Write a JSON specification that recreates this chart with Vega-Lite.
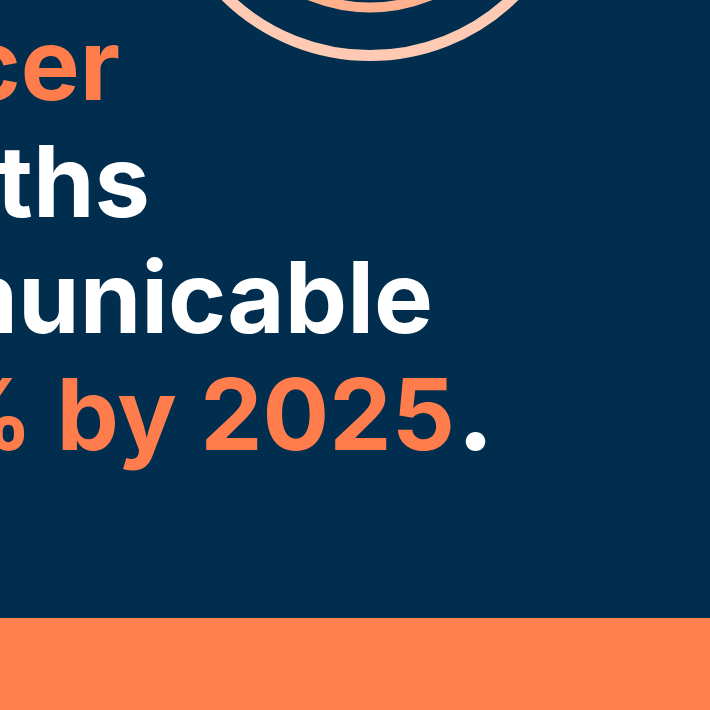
{
  "$schema": "https://vega.github.io/schema/vega-lite/v6.json",
  "width": 710,
  "height": 710,
  "autosize": {"type": "none"},
  "padding": 0,
  "background": "#012e4e",
  "config": {"view": {"stroke": null}},
  "layer": [
    {
      "data": {"values": [{"x": 0, "x2": 710, "y": 618, "y2": 710}]},
      "mark": {"type": "rect", "color": "#ff804f"},
      "encoding": {
        "x": {"field": "x", "type": "quantitative", "scale": {"domain": [0, 710], "nice": false, "zero": false}, "axis": null},
        "x2": {"field": "x2"},
        "y": {"field": "y", "type": "quantitative", "scale": {"domain": [0, 710], "nice": false, "zero": false, "reverse": true}, "axis": null},
        "y2": {"field": "y2"}
      }
    },
    {
      "data": {"values": [{"x": 370, "y": -150, "ring": "outer"}]},
      "mark": {"type": "point", "shape": "circle", "filled": false, "size": 168921, "strokeWidth": 11, "color": "#ffcab3", "opacity": 1},
      "encoding": {
        "x": {"field": "x", "type": "quantitative", "axis": null},
        "y": {"field": "y", "type": "quantitative", "axis": null}
      }
    },
    {
      "data": {"values": [{"x": 370, "y": -150, "ring": "inner"}]},
      "mark": {"type": "point", "shape": "circle", "filled": false, "size": 99225, "strokeWidth": 10, "color": "#ffb08c", "opacity": 1},
      "encoding": {
        "x": {"field": "x", "type": "quantitative", "axis": null},
        "y": {"field": "y", "type": "quantitative", "axis": null}
      }
    },
    {
      "data": {"values": [
        {"text": "Cancer", "x": 120, "y": 100, "tone": "orange"},
        {"text": "deaths", "x": 150, "y": 217, "tone": "white"},
        {"text": "communicable", "x": 433, "y": 333, "tone": "white"},
        {"text": "25% by 2025", "x": 455, "y": 450, "tone": "orange"}
      ]},
      "mark": {"type": "text", "align": "right", "baseline": "alphabetic", "font": "Inter", "fontWeight": 700, "fontSize": 99, "letterSpacing": -1},
      "encoding": {
        "x": {"field": "x", "type": "quantitative", "axis": null},
        "y": {"field": "y", "type": "quantitative", "axis": null},
        "text": {"field": "text"},
        "color": {"field": "tone", "type": "nominal", "scale": {"domain": ["orange", "white"], "range": ["#ff7d4c", "#ffffff"]}, "legend": null}
      }
    },
    {
      "data": {"values": [{"text": ".", "x": 457, "y": 450, "tone": "white"}]},
      "mark": {"type": "text", "align": "left", "baseline": "alphabetic", "font": "Inter", "fontWeight": 800, "fontSize": 105},
      "encoding": {
        "x": {"field": "x", "type": "quantitative", "axis": null},
        "y": {"field": "y", "type": "quantitative", "axis": null},
        "text": {"field": "text"},
        "color": {"field": "tone", "type": "nominal", "legend": null}
      }
    }
  ]
}
